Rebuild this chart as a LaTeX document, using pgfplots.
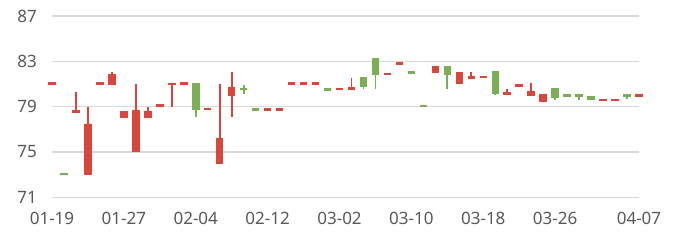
\documentclass[border=0pt]{standalone}
\usepackage{pgfplots}
\pgfplotsset{compat=1.18}
\usepackage{pgfplotstable}
\usepackage{fontspec}
\setmainfont{Noto Sans}
\definecolor{cred}{HTML}{D9463B}
\definecolor{cgreen}{HTML}{7BAF55}
\definecolor{cgrid}{HTML}{D9D9D9}
\definecolor{ctext}{HTML}{595959}

% i: category index, o/c/h/l: open, close, high, low
\pgfplotstableread{
i  o      c      h      l
0  81.03  81.03  81.03  81.03
2  78.45  78.70  80.30  78.45
3  73.00  77.45  79.00  73.00
4  81.03  81.03  81.03  81.03
5  80.90  81.90  82.05  80.90
6  78.00  78.60  78.60  78.00
7  75.00  78.70  81.00  75.00
8  78.00  78.60  79.00  78.00
9  79.10  79.10  79.10  79.10
10 80.95  81.05  81.05  79.00
11 81.03  81.03  81.03  81.03
13 78.80  78.80  78.80  78.80
14 73.95  76.25  81.00  73.95
15 79.95  80.70  82.05  78.05
18 78.77  78.77  78.77  78.77
19 78.77  78.77  78.77  78.77
20 81.03  81.03  81.03  81.03
21 81.03  81.03  81.03  81.03
22 81.03  81.03  81.03  81.03
24 80.55  80.55  80.55  80.55
25 80.45  80.70  81.50  80.45
28 81.88  81.88  81.88  81.88
29 82.82  82.82  82.82  82.82
32 81.95  82.55  82.55  81.95
34 81.00  82.10  82.10  81.00
35 81.45  81.70  82.05  81.45
36 81.62  81.62  81.62  81.62
38 80.05  80.30  80.55  80.05
39 80.88  80.88  80.88  80.88
40 79.90  80.40  81.05  79.90
41 79.45  80.10  80.10  79.45
46 79.59  79.59  79.59  79.59
47 79.59  79.59  79.59  79.59
49 80.00  80.00  80.00  80.00
}\upcandles

\pgfplotstableread{
i  o      c      h      l
1  73.05  73.05  73.05  73.05
12 81.10  78.70  81.10  78.05
16 80.65  80.45  80.95  80.10
17 78.77  78.77  78.77  78.77
23 80.52  80.52  80.52  80.52
26 81.60  80.70  81.60  80.55
27 83.30  81.80  83.30  80.55
30 82.03  82.03  82.03  82.03
31 79.06  79.06  79.06  79.06
33 82.60  81.80  82.60  80.55
37 82.15  80.10  82.15  80.00
42 80.65  79.75  80.65  79.55
43 80.15  79.85  80.15  79.85
44 80.10  79.85  80.10  79.60
45 79.95  79.55  79.95  79.55
48 80.10  79.90  80.10  79.65
}\downcandles

\pgfplotsset{
  candle/.style 2 args={only marks, mark=*, mark size=0pt,
    mark options={draw=none, fill=none},
    error bars/.cd, y dir=both, y explicit, error mark=none,
    error bar style={draw=#1, line width=#2}},
}

\begin{document}
\begin{tikzpicture}
\begin{axis}[
  name=ax,
  scale only axis,
  width=587pt, height=181.3pt,
  xmin=0, xmax=49, ymin=71, ymax=87,
  clip=false,
  axis line style={draw=none},
  major tick length=0pt,
  ytick={71,75,79,83,87},
  xtick={0,6,12,18,24,30,36,42,49},
  xticklabels={01-19,01-27,02-04,02-12,03-02,03-10,03-18,03-26,04-07},
  ymajorgrids,
  grid style={cgrid, line width=1.3pt},
  /pgf/number format/assume math mode=true,
  ticklabel style={font=\fontsize{17}{20}\selectfont, text=ctext, inner sep=0pt},
  yticklabel style={anchor=east, xshift=-15pt},
  xticklabel style={anchor=north, yshift=-15pt},
]
% wicks
\addplot[candle={cred}{1.8pt}]
  table[x=i, y expr={(\thisrow{h}+\thisrow{l})/2}, y error expr={(\thisrow{h}-\thisrow{l})/2}] {\upcandles};
\addplot[candle={cgreen}{1.8pt}]
  table[x=i, y expr={(\thisrow{h}+\thisrow{l})/2}, y error expr={(\thisrow{h}-\thisrow{l})/2}] {\downcandles};
% bodies
\addplot[candle={cred}{7.5pt}]
  table[x=i, y expr={(\thisrow{o}+\thisrow{c})/2}, y error expr={max(abs(\thisrow{o}-\thisrow{c})/2,0.12)}] {\upcandles};
\addplot[candle={cgreen}{7.5pt}]
  table[x=i, y expr={(\thisrow{o}+\thisrow{c})/2}, y error expr={max(abs(\thisrow{o}-\thisrow{c})/2,0.12)}] {\downcandles};
\end{axis}
\pgfresetboundingbox
\path (ax.south west) ++(-52pt,-52.7pt) rectangle ++(676pt,250pt);
\end{tikzpicture}
\end{document}
